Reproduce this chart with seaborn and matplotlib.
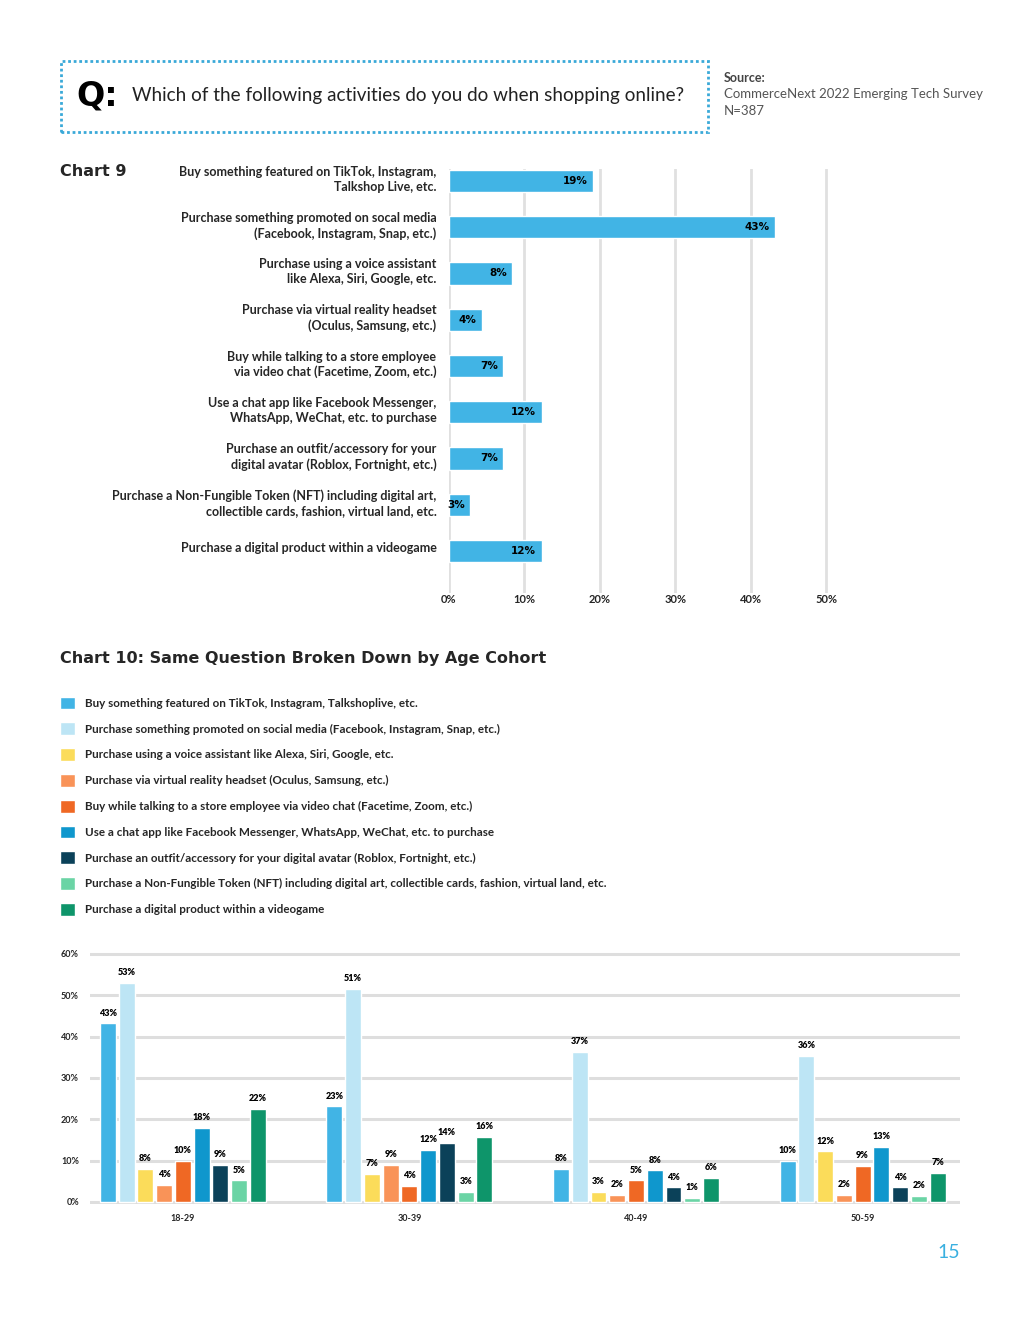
import numpy as np
import pandas as pd
import matplotlib.pyplot as plt
import seaborn as sns
from matplotlib.patches import Rectangle
from matplotlib.transforms import ScaledTranslation

# ---- data ----
chart9_labels = [
    "Buy something featured on TikTok, Instagram,\nTalkshop Live, etc.",
    "Purchase something promoted on socal media\n(Facebook, Instagram, Snap, etc.)",
    "Purchase using a voice assistant\nlike Alexa, Siri, Google, etc.",
    "Purchase via virtual reality headset\n(Oculus, Samsung, etc.)",
    "Buy while talking to a store employee\nvia video chat (Facetime, Zoom, etc.)",
    "Use a chat app like Facebook Messenger,\nWhatsApp, WeChat, etc. to purchase",
    "Purchase an outfit/accessory for your\ndigital avatar (Roblox, Fortnight, etc.)",
    "Purchase a Non-Fungible Token (NFT) including digital art,\ncollectible cards, fashion, virtual land, etc.",
    "Purchase a digital product within a videogame",
]
chart9_values = [19.1, 43.2, 8.4, 4.4, 7.2, 12.3, 7.2, 2.8, 12.3]
chart9_text = ["19%", "43%", "8%", "4%", "7%", "12%", "7%", "3%", "12%"]

cohorts = ["18-29", "30-39", "40-49", "50-59"]
activities = [
    "Buy something featured on TikTok, Instagram, Talkshoplive, etc.",
    "Purchase something promoted on social media (Facebook, Instagram, Snap, etc.)",
    "Purchase using a voice assistant like Alexa, Siri, Google, etc.",
    "Purchase via virtual reality headset (Oculus, Samsung, etc.)",
    "Buy while talking to a store employee via video chat (Facetime, Zoom, etc.)",
    "Use a chat app like Facebook Messenger, WhatsApp, WeChat, etc. to purchase",
    "Purchase an outfit/accessory for your digital avatar (Roblox, Fortnight, etc.)",
    "Purchase a Non-Fungible Token (NFT) including digital art, collectible cards, fashion, virtual land, etc.",
    "Purchase a digital product within a videogame",
]
# one list per cohort, in activity order
age_18_29 = [43.2, 53.0, 8.0, 4.2, 10.0, 18.0, 9.0, 5.2, 22.6]
age_30_39 = [23.2, 51.6, 6.8, 9.0, 3.9, 12.6, 14.3, 2.4, 15.7]
age_40_49 = [8.0, 36.3, 2.4, 1.7, 5.2, 7.7, 3.6, 1.0, 5.8]
age_50_59 = [10.0, 35.4, 12.3, 1.7, 8.7, 13.3, 3.6, 1.5, 7.0]
lab_18_29 = [43, 53, 8, 4, 10, 18, 9, 5, 22]
lab_30_39 = [23, 51, 7, 9, 4, 12, 14, 3, 16]
lab_40_49 = [8, 37, 3, 2, 5, 8, 4, 1, 6]
lab_50_59 = [10, 36, 12, 2, 9, 13, 4, 2, 7]

colors10 = ["#41b4e5", "#bde5f5", "#fbdc5a", "#f99358", "#ef6824",
            "#0f97cd", "#0b4159", "#6bd4a5", "#0e956a"]

sns.set_theme(style="white")
plt.rcParams['font.family'] = ['Lato', 'DejaVu Sans']

fig = plt.figure(figsize=(10.2, 13.2), dpi=100)
W, H = 1020, 1320

def fx(px):
    return px / W

def fy(py):
    return 1 - py / H

# ---- header ----
fig.patches.append(Rectangle((fx(61), fy(132)), fx(708) - fx(61), fy(61) - fy(132),
                             transform=fig.transFigure, fill=False,
                             edgecolor="#3aa9d8", linestyle=(0, (1, 1)), linewidth=2))
fig.text(fx(76), fy(96), "Q:", fontsize=24, fontweight="heavy", va="center", color="black",
         family="DejaVu Sans")
fig.text(fx(132), fy(95), "Which of the following activities do you do when shopping online?",
         fontsize=13.6, va="center", color="#222222")
fig.text(fx(724), fy(78), "Source:", fontsize=9, fontweight="bold", va="center", color="#444444")
fig.text(fx(724), fy(94), "CommerceNext 2022 Emerging Tech Survey", fontsize=9.5, va="center",
         color="#555555")
fig.text(fx(724), fy(111), "N=387", fontsize=9.5, va="center", color="#555555")

fig.text(fx(60), fy(171), "Chart 9", fontsize=11.5, fontweight="bold", va="center",
         family="DejaVu Sans")
fig.text(fx(60), fy(658), "Chart 10: Same Question Broken Down by Age Cohort",
         fontsize=11.5, fontweight="bold", va="center", family="DejaVu Sans")
fig.text(fx(960), fy(1252), "15", fontsize=14, color="#3ab0e0", ha="right", va="center")

# ---- chart 9 ----
ax1 = fig.add_axes([fx(449), fy(592.6), fx(830) - fx(449), fy(169.4) - fy(592.6)])
df9 = pd.DataFrame({"activity": chart9_labels, "value": chart9_values})
sns.barplot(data=df9, x="value", y="activity", color="#41b4e5", width=0.48,
            saturation=1, ax=ax1, zorder=3)
ax1.set_xlim(0, 50.5)
ax1.set_ylim(8.9, -0.25)
ax1.set_xticks([0, 10, 20, 30, 40, 50])
ax1.set_xticklabels([f"{t}%" for t in [0, 10, 20, 30, 40, 50]], fontsize=8, fontweight="bold")
ax1.set_xlabel("")
ax1.set_ylabel("")
ax1.grid(axis="x", color="#e0e0e0", linewidth=2, zorder=0)
ax1.set_axisbelow(True)
for s in ax1.spines.values():
    s.set_visible(False)
ax1.tick_params(axis="x", length=0, pad=1)
ax1.tick_params(axis="y", length=0, pad=9)
# labels sit a little above the bar centre in the original
lift = ScaledTranslation(0, 3 / 72, fig.dpi_scale_trans)
for t in ax1.get_yticklabels():
    t.set_fontsize(9)
    t.set_fontweight("bold")
    t.set_linespacing(1.3)
    t.set_transform(t.get_transform() + lift)
# value labels just inside the bar ends
for bar, txt in zip(ax1.containers[0], chart9_text):
    ax1.annotate(txt, (bar.get_width(), bar.get_y() + bar.get_height() / 2),
                 xytext=(-4, 0), textcoords="offset points", ha="right", va="center",
                 fontsize=7.5, fontweight="heavy", color="black", family="DejaVu Sans")

# ---- chart 10 ----
ax2 = fig.add_axes([fx(90), fy(1204), fx(960) - fx(90), fy(951.5) - fy(1204)])
rows = []
for cohort, vals in zip(cohorts, [age_18_29, age_30_39, age_40_49, age_50_59]):
    for act, v in zip(activities, vals):
        rows.append({"cohort": cohort, "activity": act, "value": v})
df10 = pd.DataFrame(rows)
sns.barplot(data=df10, x="cohort", y="value", hue="activity", hue_order=activities,
            palette=colors10, width=0.745, gap=0.15, saturation=1, ax=ax2, zorder=3)
ax2.set_xlim(-0.41, 3.43)
ax2.set_ylim(-0.5, 60.6)
ax2.set_yticks(range(0, 61, 10))
ax2.set_yticklabels([f"{t}%" for t in range(0, 61, 10)], fontsize=6.5, fontweight="bold")
for t in ax2.get_xticklabels():
    t.set_fontsize(6.5)
    t.set_fontweight("bold")
ax2.set_xlabel("")
ax2.set_ylabel("")
ax2.grid(axis="y", color="#dedede", linewidth=2.2, zorder=0)
ax2.grid(axis="x", visible=False)
ax2.set_axisbelow(True)
for s in ax2.spines.values():
    s.set_visible(False)
ax2.tick_params(axis="y", length=0, pad=8)
ax2.tick_params(axis="x", length=0, pad=7)

labels10 = [lab_18_29, lab_30_39, lab_40_49, lab_50_59]
handles, _ = ax2.get_legend_handles_labels()
ax2.get_legend().remove()
for i, cont in enumerate(ax2.containers):
    ax2.bar_label(cont, labels=[f"{labels10[j][i]}%" for j in range(len(cohorts))],
                  padding=4, fontsize=6.5, fontweight="heavy", color="black")

leg = fig.legend(handles, activities, loc="upper left", bbox_to_anchor=(fx(55.5), fy(692)),
                 frameon=False, fontsize=8.4, handlelength=1.3, handleheight=1.3,
                 handletextpad=0.85, labelspacing=1.12, borderaxespad=0)
for t in leg.get_texts():
    t.set_fontweight("bold")

fig.savefig("out.png", dpi=100)
